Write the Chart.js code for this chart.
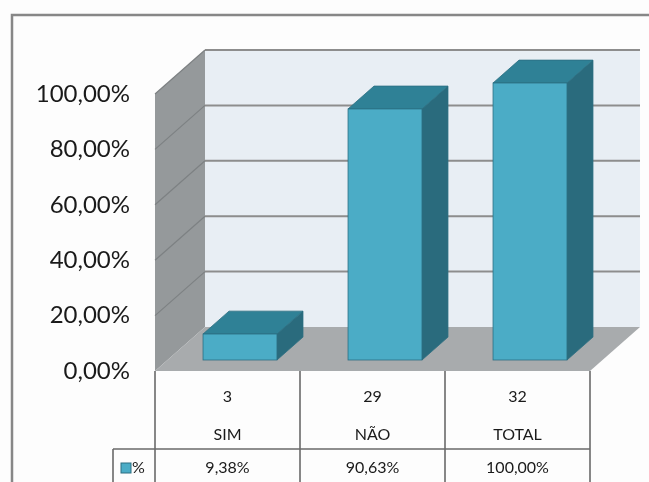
<!DOCTYPE html>
<html>
<head>
<meta charset="utf-8">
<script src="https://cdn.jsdelivr.net/npm/chart.js@4"></script>
<style>
  html, body { margin: 0; padding: 0; background: #fdfdfd; }
  #wrap { width: 649px; height: 482px; }
</style>
</head>
<body>
<div id="wrap"><canvas id="grafico" width="649" height="482"></canvas></div>
<script>
// dados da tabela
const categorias = ['SIM', 'NÃO', 'TOTAL'];
const quantidades = [3, 29, 32];
const percentuais = [9.38, 90.63, 100];
const nomeSerie = '%';
const escalaY = { min: 0, max: 100, passo: 20 };

// profundidade da "caixa" 3D e posição das barras dentro dela
const PROF_X = 50, PROF_Y = -44;
const BARRA_INI = 0.25, BARRA_FIM = 0.77;

const cores = {
    fundo: '#e8eef4',
    parede: '#95999b',
    piso: '#a8abad',
    grade: '#8d8d8d',
    frente: '#4bacc6',
    topo: '#2f8196',
    lado: '#2a6b7d',
    borda: '#2c6f82',
    texto: '#1a1a1a',
    tabela: '#6a6a6a'
};

const fmtPct = v => v.toFixed(2).replace('.', ',') + '%';

function poligono(ctx, pts, cor) {
    ctx.beginPath();
    ctx.moveTo(pts[0][0], pts[0][1]);
    for (let i = 1; i < pts.length; i++) ctx.lineTo(pts[i][0], pts[i][1]);
    ctx.closePath();
    ctx.fillStyle = cor;
    ctx.fill();
}

const cena3d = {
    id: 'cena3d',
    beforeDraw(chart) {
        const { ctx, chartArea: a, scales: { y } } = chart;
        ctx.save();
        ctx.fillStyle = '#fdfdfd';
        ctx.fillRect(0, 0, chart.width, chart.height);

        // moldura
        ctx.strokeStyle = '#878787';
        ctx.lineWidth = 2.5;
        ctx.beginPath();
        ctx.moveTo(12, chart.height);
        ctx.lineTo(12, 15);
        ctx.lineTo(chart.width, 15);
        ctx.stroke();

        const y0 = y.getPixelForValue(escalaY.min);
        const yTop = y.getPixelForValue(escalaY.max);

        // parede do fundo
        ctx.fillStyle = cores.fundo;
        ctx.fillRect(a.left + PROF_X, yTop + PROF_Y, a.right - a.left, y0 - yTop);

        // parede lateral
        poligono(ctx, [[a.left, y0], [a.left, yTop], [a.left + PROF_X, yTop + PROF_Y], [a.left + PROF_X, y0 + PROF_Y]], cores.parede);

        // piso
        poligono(ctx, [[a.left, y0], [a.right, y0], [a.right + PROF_X, y0 + PROF_Y], [a.left + PROF_X, y0 + PROF_Y]], cores.piso);

        // linhas de grade
        for (let v = escalaY.min + escalaY.passo; v <= escalaY.max; v += escalaY.passo) {
            const py = y.getPixelForValue(v);
            ctx.strokeStyle = cores.grade;
            ctx.lineWidth = 2;
            ctx.beginPath();
            ctx.moveTo(a.left + PROF_X, py + PROF_Y);
            ctx.lineTo(a.right + PROF_X, py + PROF_Y);
            ctx.stroke();
            ctx.strokeStyle = '#7d8183';
            ctx.lineWidth = 1.2;
            ctx.beginPath();
            ctx.moveTo(a.left, py);
            ctx.lineTo(a.left + PROF_X, py + PROF_Y);
            ctx.stroke();
        }
        ctx.restore();
    },
    afterDatasetsDraw(chart) {
        const { ctx } = chart;
        const meta = chart.getDatasetMeta(0);
        const ox0 = PROF_X * BARRA_INI, oy0 = PROF_Y * BARRA_INI;
        const ox1 = PROF_X * BARRA_FIM, oy1 = PROF_Y * BARRA_FIM;
        ctx.save();
        ctx.lineWidth = 0.8;
        ctx.strokeStyle = cores.borda;
        meta.data.forEach(bar => {
            const { x, y, base, width } = bar.getProps(['x', 'y', 'base', 'width'], true);
            const l = x - width / 2 + ox0, r = x + width / 2 + ox0;
            const t = y + oy0, b = base + oy0;
            const dx = ox1 - ox0, dy = oy1 - oy0;
            const lado = [[r, t], [r + dx, t + dy], [r + dx, b + dy], [r, b]];
            const topo = [[l, t], [r, t], [r + dx, t + dy], [l + dx, t + dy]];
            poligono(ctx, lado, cores.lado);
            ctx.stroke();
            poligono(ctx, topo, cores.topo);
            ctx.stroke();
            ctx.fillStyle = cores.frente;
            ctx.fillRect(l, t, r - l, b - t);
            ctx.strokeRect(l, t, r - l, b - t);
        });
        ctx.restore();
    },
    afterDraw(chart) {
        // tabela de dados abaixo do gráfico
        const { ctx, chartArea: a, scales: { x } } = chart;
        const topo = a.bottom;
        const linha = topo + 78;
        const baixo = chart.height + 2;
        const larg = (a.right - a.left) / categorias.length;
        const legEsq = a.left - 42;

        ctx.save();
        ctx.strokeStyle = cores.tabela;
        ctx.lineWidth = 1.6;
        ctx.beginPath();
        for (let i = 0; i <= categorias.length; i++) {
            const px = a.left + i * larg;
            ctx.moveTo(px, topo);
            ctx.lineTo(px, baixo);
        }
        ctx.moveTo(legEsq, linha);
        ctx.lineTo(a.right, linha);
        ctx.moveTo(legEsq, linha);
        ctx.lineTo(legEsq, baixo);
        ctx.stroke();

        ctx.fillStyle = cores.texto;
        ctx.font = '16px Lato';
        ctx.textAlign = 'center';
        ctx.textBaseline = 'middle';
        categorias.forEach((c, i) => {
            const px = x.getPixelForValue(i);
            ctx.fillText(String(quantidades[i]), px, topo + 26);
            ctx.fillText(c, px, topo + 64);
            ctx.fillText(fmtPct(percentuais[i]), px, linha + 19);
        });

        // legenda da série
        ctx.fillStyle = cores.frente;
        ctx.fillRect(legEsq + 8, linha + 14, 10, 10);
        ctx.strokeStyle = cores.borda;
        ctx.lineWidth = 1;
        ctx.strokeRect(legEsq + 8, linha + 14, 10, 10);
        ctx.fillStyle = cores.texto;
        ctx.textAlign = 'left';
        ctx.fillText(nomeSerie, legEsq + 19, linha + 19);
        ctx.restore();
    }
};

new Chart(document.getElementById('grafico'), {
    type: 'bar',
    data: {
        labels: categorias,
        datasets: [{
            label: nomeSerie,
            data: percentuais,
            backgroundColor: 'rgba(0,0,0,0)',
            borderWidth: 0,
            barPercentage: 0.51,
            categoryPercentage: 1
        }]
    },
    options: {
        responsive: false,
        animation: false,
        layout: { padding: { top: 94, right: 59, bottom: 103, left: 0 } },
        plugins: {
            legend: { display: false },
            tooltip: { enabled: false }
        },
        scales: {
            x: {
                ticks: { display: false },
                grid: { display: false },
                border: { display: false }
            },
            y: {
                min: escalaY.min,
                max: escalaY.max,
                afterFit: s => { s.width = 155; },
                ticks: {
                    stepSize: escalaY.passo,
                    padding: 17,
                    color: cores.texto,
                    font: { family: 'Lato', size: 24 },
                    callback: v => fmtPct(v)
                },
                grid: { display: false },
                border: { display: false }
            }
        }
    },
    plugins: [cena3d]
});
</script>
</body>
</html>
